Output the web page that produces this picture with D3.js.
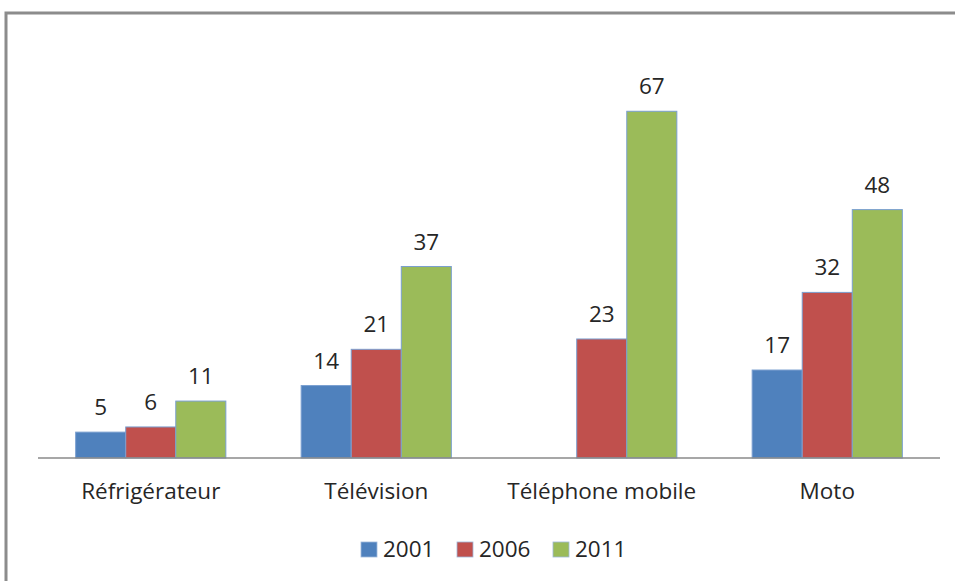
<!DOCTYPE html>
<html>
<head>
<meta charset="utf-8">
<script src="https://cdn.jsdelivr.net/npm/d3@7"></script>
<style>
  html, body { margin: 0; padding: 0; background: #fff; }
  svg { display: block; }
  text { font-family: "Open Sans", sans-serif; fill: #262626; }
</style>
</head>
<body>
<svg id="chart" width="955" height="581"></svg>
<script>
// Equipment ownership by year
const categories = ["Réfrigérateur", "Télévision", "Téléphone mobile", "Moto"];
const years = ["2001", "2006", "2011"];
const values2001 = [5, 14, null, 17];
const values2006 = [6, 21, 23, 32];
const values2011 = [11, 37, 67, 48];
const seriesColors = ["#4F81BD", "#C0504D", "#9BBB59"];

const series = [values2001, values2006, values2011];

const W = 955, H = 581;
const FONT = 22.5;
const svg = d3.select("#chart");

// outer frame
svg.append("rect")
  .attr("x", 6).attr("y", 13)
  .attr("width", W + 20).attr("height", H + 20)
  .attr("fill", "none")
  .attr("stroke", "#8c8c8c")
  .attr("stroke-width", 3);

const plot = { left: 38, right: 940, top: 44, bottom: 458 };

const x0 = d3.scaleBand()
  .domain(categories)
  .range([plot.left, plot.right])
  .paddingInner(0.334)
  .paddingOuter(0.167);

const x1 = d3.scaleBand()
  .domain(years)
  .range([0, x0.bandwidth()]);

const y = d3.scaleLinear()
  .domain([0, 80])
  .range([plot.bottom, plot.top]);

// bars
const groups = svg.append("g").selectAll("g")
  .data(categories)
  .join("g")
  .attr("transform", d => `translate(${x0(d)},0)`);

years.forEach((yr, si) => {
  groups.each(function(cat, ci) {
    const v = series[si][ci];
    if (v == null) return;
    const g = d3.select(this);
    g.append("rect")
      .attr("x", x1(yr))
      .attr("y", y(v))
      .attr("width", x1.bandwidth())
      .attr("height", y(0) - y(v))
      .attr("fill", seriesColors[si])
      .attr("stroke", "#7a9fd0")
      .attr("stroke-width", 1);
    g.append("text")
      .attr("x", x1(yr) + x1.bandwidth() / 2)
      .attr("y", y(v) - 17)
      .attr("text-anchor", "middle")
      .attr("font-size", FONT)
      .text(v);
  });
});

// category axis
const axis = svg.append("g")
  .attr("transform", `translate(0,${plot.bottom})`)
  .call(d3.axisBottom(x0).tickSize(0).tickPadding(25));
axis.select(".domain").attr("stroke", "#8a8a8a").attr("stroke-width", 1.5)
  .attr("d", `M${plot.left},0H${plot.right}`);
axis.selectAll("text")
  .attr("font-size", FONT)
  .attr("font-family", "'Open Sans', sans-serif")
  .attr("fill", "#262626");

// legend
const legendItems = [
  { label: years[0], x: 361 },
  { label: years[1], x: 457 },
  { label: years[2], x: 553 }
];
const legend = svg.append("g");
legendItems.forEach((it, i) => {
  legend.append("rect")
    .attr("x", it.x).attr("y", 542)
    .attr("width", 16).attr("height", 15)
    .attr("fill", seriesColors[i])
    .attr("stroke", "#9fb8db").attr("stroke-width", 0.8);
  legend.append("text")
    .attr("x", it.x + 22).attr("y", 557)
    .attr("font-size", FONT)
    .text(it.label);
});
</script>
</body>
</html>
